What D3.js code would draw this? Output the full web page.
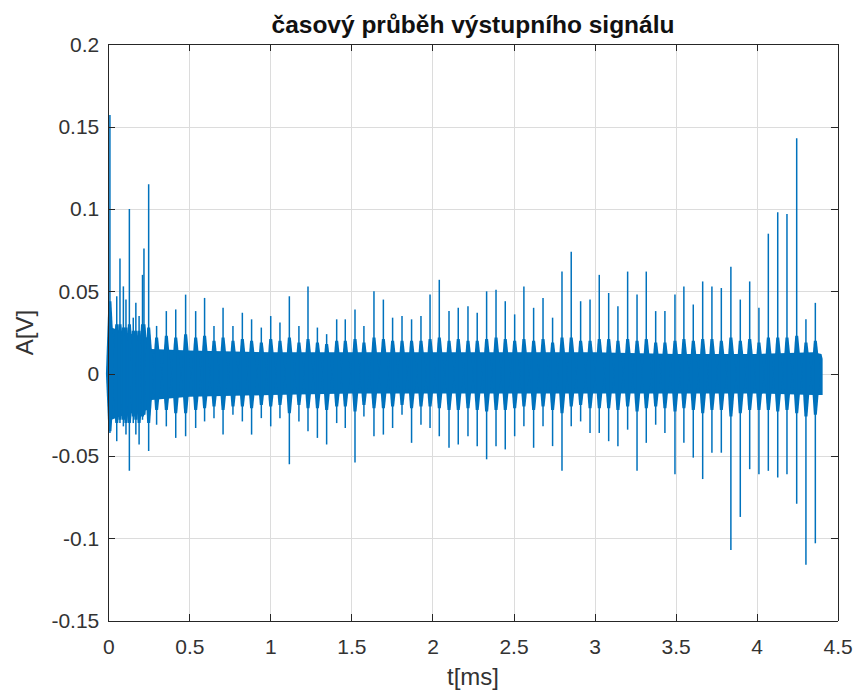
<!DOCTYPE html>
<html>
<head>
<meta charset="utf-8">
<script src="https://d3js.org/d3.v7.min.js"></script>
<style>
body { margin: 0; background: #fff; }
svg { display: block; }
.axis text { font-family: "Liberation Sans", Arial, Helvetica, sans-serif; font-size: 21px; fill: #333; }
.axis path, .axis line { stroke: #262626; shape-rendering: crispEdges; }
.grid line { stroke: #dcdcdc; shape-rendering: crispEdges; }
.grid path { display: none; }
</style>
</head>
<body>
<div id="chart"></div>
<script>
// time axis in ms, amplitude in V
var xTicks = [0, 0.5, 1, 1.5, 2, 2.5, 3, 3.5, 4, 4.5];
var yTicks = [-0.15, -0.1, -0.05, 0, 0.05, 0.1, 0.15, 0.2];

// pulse positions and their peak / trough values
var spikeT = [0.010, 0.052, 0.072, 0.093, 0.109, 0.130, 0.154, 0.170, 0.190, 0.211,
              0.220, 0.249, 0.298, 0.358, 0.416, 0.477, 0.539, 0.594, 0.652, 0.708,
              0.769, 0.827, 0.884, 0.944, 1.002, 1.059, 1.117, 1.176, 1.232, 1.290,
              1.347, 1.409, 1.462, 1.522, 1.577, 1.639, 1.697, 1.754, 1.812, 1.871,
              1.929, 1.985, 2.042, 2.102, 2.159, 2.219, 2.276, 2.334, 2.392, 2.449,
              2.507, 2.564, 2.624, 2.682, 2.741, 2.799, 2.856, 2.914, 2.972, 3.029,
              3.087, 3.144, 3.204, 3.262, 3.319, 3.377, 3.434, 3.496, 3.551, 3.609,
              3.667, 3.724, 3.782, 3.841, 3.899, 3.957, 4.014, 4.072, 4.130, 4.187,
              4.247, 4.304, 4.362];
var spikeHi = [0.157, 0.047, 0.070, 0.053, 0.045, 0.100, 0.034, 0.043, 0.035, 0.060,
               0.076, 0.115, 0.029, 0.038, 0.039, 0.048, 0.038, 0.046, 0.029, 0.040,
               0.029, 0.037, 0.033, 0.028, 0.035, 0.031, 0.047, 0.029, 0.053, 0.028,
               0.024, 0.033, 0.033, 0.039, 0.029, 0.050, 0.045, 0.034, 0.035, 0.033,
               0.035, 0.048, 0.057, 0.038, 0.040, 0.041, 0.037, 0.050, 0.051, 0.044,
               0.036, 0.053, 0.040, 0.046, 0.034, 0.062, 0.074, 0.044, 0.045, 0.060,
               0.049, 0.041, 0.062, 0.048, 0.062, 0.038, 0.038, 0.048, 0.053, 0.042,
               0.056, 0.053, 0.052, 0.065, 0.045, 0.056, 0.040, 0.085, 0.098, 0.097,
               0.143, 0.033, 0.043];
var spikeLo = [-0.036, -0.041, -0.030, -0.032, -0.037, -0.059, -0.030, -0.037, -0.043, -0.028,
               -0.025, -0.047, -0.031, -0.032, -0.039, -0.038, -0.033, -0.029, -0.027, -0.037,
               -0.025, -0.029, -0.037, -0.027, -0.032, -0.027, -0.055, -0.029, -0.035, -0.039,
               -0.043, -0.030, -0.033, -0.054, -0.026, -0.038, -0.037, -0.033, -0.025, -0.042,
               -0.031, -0.033, -0.038, -0.045, -0.043, -0.038, -0.044, -0.052, -0.044, -0.046,
               -0.038, -0.032, -0.045, -0.032, -0.044, -0.059, -0.032, -0.029, -0.036, -0.036,
               -0.041, -0.044, -0.034, -0.059, -0.042, -0.031, -0.036, -0.061, -0.042, -0.051,
               -0.064, -0.048, -0.048, -0.107, -0.087, -0.058, -0.061, -0.059, -0.063, -0.061,
               -0.079, -0.116, -0.103];

// ringing that surrounds each pulse
var burstHi = [0.044, 0.030, 0.030, 0.028, 0.028, 0.030, 0.026, 0.026, 0.026, 0.030,
               0.030, 0.028, 0.022, 0.023, 0.022, 0.024, 0.022, 0.023, 0.020, 0.022,
               0.020, 0.021, 0.020, 0.019, 0.021, 0.020, 0.022, 0.019, 0.021, 0.019,
               0.018, 0.020, 0.020, 0.021, 0.019, 0.022, 0.021, 0.020, 0.020, 0.020,
               0.020, 0.021, 0.022, 0.020, 0.021, 0.020, 0.020, 0.021, 0.022, 0.021,
               0.020, 0.021, 0.020, 0.021, 0.019, 0.022, 0.022, 0.020, 0.020, 0.021,
               0.021, 0.020, 0.021, 0.020, 0.021, 0.019, 0.019, 0.020, 0.021, 0.020,
               0.021, 0.021, 0.020, 0.022, 0.020, 0.021, 0.019, 0.022, 0.022, 0.022,
               0.023, 0.019, 0.020];
var burstLo = [-0.035, -0.030, -0.028, -0.028, -0.030, -0.030, -0.026, -0.028, -0.030, -0.026,
               -0.025, -0.030, -0.022, -0.022, -0.024, -0.024, -0.022, -0.021, -0.020, -0.022,
               -0.020, -0.020, -0.021, -0.019, -0.020, -0.019, -0.024, -0.019, -0.021, -0.021,
               -0.022, -0.020, -0.020, -0.023, -0.019, -0.021, -0.021, -0.020, -0.019, -0.021,
               -0.020, -0.020, -0.021, -0.022, -0.022, -0.021, -0.022, -0.023, -0.022, -0.022,
               -0.021, -0.020, -0.022, -0.020, -0.022, -0.024, -0.020, -0.019, -0.021, -0.021,
               -0.021, -0.022, -0.020, -0.023, -0.021, -0.020, -0.021, -0.023, -0.021, -0.022,
               -0.024, -0.022, -0.022, -0.026, -0.024, -0.022, -0.022, -0.022, -0.023, -0.022,
               -0.024, -0.026, -0.025];

// envelope of the continuous noise floor
var bandT  = [0.000, 0.006, 0.020, 0.100, 0.240, 0.265, 0.500, 1.000, 1.500, 2.000, 2.500, 3.000, 3.500, 4.000, 4.350, 4.400, 4.407];
var bandHi = [0.030, 0.040, 0.028, 0.025, 0.022, 0.015, 0.014, 0.013, 0.013, 0.013, 0.013, 0.013, 0.012, 0.012, 0.013, 0.012, 0.009];
var bandLo = [-0.030, -0.035, -0.028, -0.025, -0.022, -0.016, -0.014, -0.013, -0.012, -0.012, -0.012, -0.012, -0.012, -0.012, -0.013, -0.013, -0.013];

var W = 859, H = 696;
var plotL = 108.3, plotR = 837.7, plotT = 44.3, plotB = 620.7;
var blue = "#0072BD";
var font = "'Liberation Sans', Arial, Helvetica, sans-serif";

var svg = d3.select("#chart").append("svg")
    .attr("width", W)
    .attr("height", H);

var x = d3.scaleLinear().domain([0, 4.5]).range([plotL, plotR]);
var y = d3.scaleLinear().domain([-0.15, 0.2]).range([plotB, plotT]);

// grid
svg.append("g")
    .attr("class", "grid")
    .attr("transform", "translate(0," + plotB + ")")
    .call(d3.axisBottom(x).tickValues(xTicks).tickSize(-(plotB - plotT)).tickFormat(""));
svg.append("g")
    .attr("class", "grid")
    .attr("transform", "translate(" + plotL + ",0)")
    .call(d3.axisLeft(y).tickValues(yTicks).tickSize(-(plotR - plotL)).tickFormat(""));

// signal
var plot = svg.append("g");

var band = bandT.map(function(t, i) { return {t: t, hi: bandHi[i], lo: bandLo[i]}; });
plot.append("path")
    .datum(band)
    .attr("fill", blue)
    .attr("d", d3.area()
        .x(function(d) { return x(d.t); })
        .y0(function(d) { return y(d.lo); })
        .y1(function(d) { return y(d.hi); }));

var spikes = spikeT.map(function(t, i) {
    return {t: t, hi: spikeHi[i], lo: spikeLo[i], bh: burstHi[i], bl: burstLo[i]};
});

// ringing drawn as a narrow tapered blob round each pulse
plot.selectAll("path.burst")
    .data(spikes)
    .enter().append("path")
    .attr("class", "burst")
    .attr("fill", blue)
    .attr("d", function(d) {
        var cx = x(d.t), top = y(d.bh), bot = y(d.bl), mid = y(0);
        return "M" + (cx - 4) + "," + mid +
               "L" + (cx - 1.5) + "," + top +
               "L" + (cx + 1.5) + "," + top +
               "L" + (cx + 5) + "," + mid +
               "L" + (cx + 1.5) + "," + bot +
               "L" + (cx - 1.5) + "," + bot + "Z";
    });

plot.selectAll("line.spike")
    .data(spikes)
    .enter().append("line")
    .attr("class", "spike")
    .attr("x1", function(d) { return x(d.t); })
    .attr("x2", function(d) { return x(d.t); })
    .attr("y1", function(d) { return y(d.lo); })
    .attr("y2", function(d) { return y(d.hi); })
    .attr("stroke", blue)
    .attr("stroke-width", 1.5);

// axes with inward ticks, box on all four sides
var fmt = function(d) { return String(d); };

svg.append("g")
    .attr("class", "axis")
    .attr("transform", "translate(0," + plotB + ")")
    .call(d3.axisBottom(x).tickValues(xTicks).tickSizeInner(-7).tickSizeOuter(0).tickPadding(18).tickFormat(fmt));
svg.append("g")
    .attr("class", "axis")
    .attr("transform", "translate(" + plotL + ",0)")
    .call(d3.axisLeft(y).tickValues(yTicks).tickSizeInner(-7).tickSizeOuter(0).tickPadding(9).tickFormat(fmt));
svg.append("g")
    .attr("class", "axis")
    .attr("transform", "translate(0," + plotT + ")")
    .call(d3.axisTop(x).tickValues(xTicks).tickSizeInner(-7).tickSizeOuter(0).tickFormat(""));
svg.append("g")
    .attr("class", "axis")
    .attr("transform", "translate(" + plotR + ",0)")
    .call(d3.axisRight(y).tickValues(yTicks).tickSizeInner(-7).tickSizeOuter(0).tickFormat(""));

// labels
svg.append("text")
    .attr("x", (plotL + plotR) / 2)
    .attr("y", 33)
    .attr("text-anchor", "middle")
    .style("font-family", font)
    .style("font-weight", "bold")
    .style("font-size", "24.5px")
    .style("fill", "#111")
    .text("časový průběh výstupního signálu");

svg.append("text")
    .attr("x", (plotL + plotR) / 2)
    .attr("y", 685)
    .attr("text-anchor", "middle")
    .style("font-family", font)
    .style("font-size", "24px")
    .style("fill", "#333")
    .text("t[ms]");

svg.append("text")
    .attr("transform", "translate(33," + (plotT + plotB) / 2 + ") rotate(-90)")
    .attr("text-anchor", "middle")
    .style("font-family", font)
    .style("font-size", "24px")
    .style("fill", "#333")
    .text("A[V]");
</script>
</body>
</html>
